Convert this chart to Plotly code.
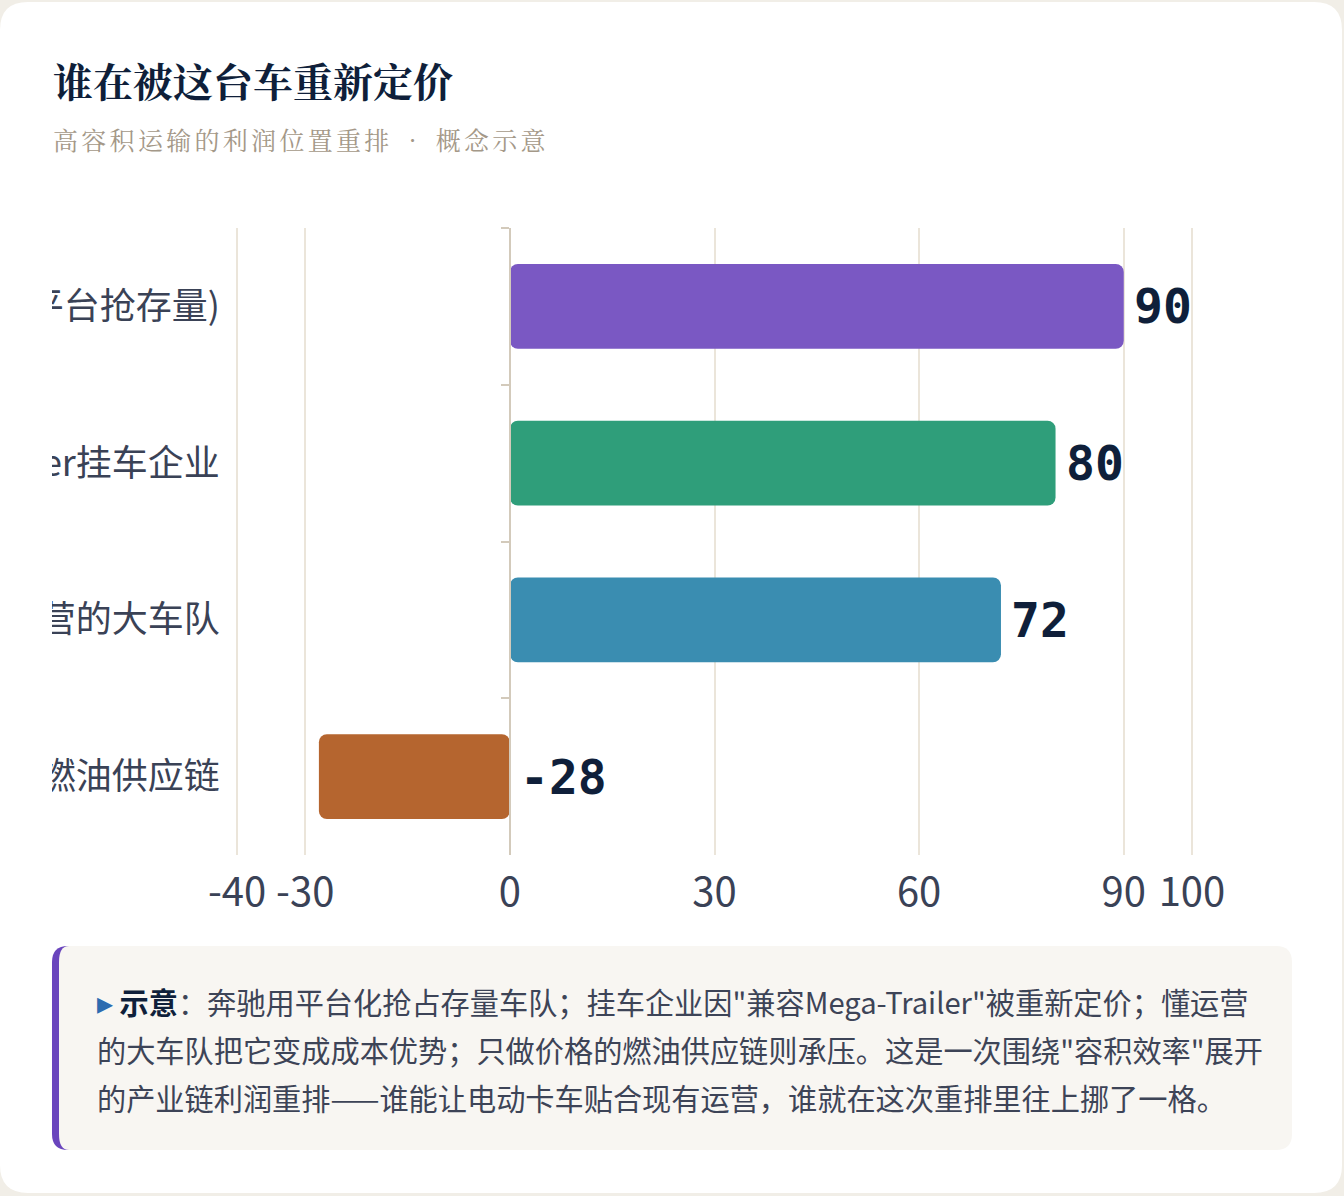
import plotly.graph_objects as go

W, H = 1344, 1196

# ---------------- data ----------------
categories = ["奔驰(平台抢存量)", "兼容Mega-Trailer挂车企业", "懂运营的大车队", "只做价格的燃油供应链"]
values = [90, 80, 72, -28]
bar_colors = ["#7a58c3", "#2f9e7a", "#3a8db1", "#b5652f"]
x_tickvals = [-40, -30, 0, 30, 60, 90, 100]
x_ticktext = ["-40", "-30", "0", "30", "60", "90", "100"]
x_range = [-40, 100]

title_text = "谁在被这台车重新定价"
subtitle_parts = ["高容积运输的利润位置重排", "·", "概念示意"]
note_lead = "示意"
note_lines = [
    "奔驰用平台化抢占存量车队；挂车企业因\"兼容Mega-Trailer\"被重新定价；懂运营",
    "的大车队把它变成成本优势；只做价格的燃油供应链则承压。这是一次围绕\"容积效率\"展开",
    "的产业链利润重排——谁能让电动卡车贴合现有运营，谁就在这次重排里往上挪了一格。",
]

# ---------------- layout constants ----------------
ML, MR, MT, MB = 235, 150, 228, 341
PW, PH = W - ML - MR, H - MT - MB
CJK = "Noto Sans CJK SC, Noto Sans, sans-serif"
SERIF = "Noto Serif CJK SC, Noto Sans CJK SC, serif"
NAVY = "#0f1f3a"
LABEL = "#3a4256"


def px(x):
    return (x - ML) / PW


def py(y):
    return 1 - (y - MT) / PH


def rr_path(x0, y0, x1, y1, r, rxl=None, ryl=None):
    rxl = r if rxl is None else rxl
    ryl = r if ryl is None else ryl
    pts = [
        ("M", [(x0 + rxl, y0)]),
        ("L", [(x1 - r, y0)]),
        ("Q", [(x1, y0), (x1, y0 + r)]),
        ("L", [(x1, y1 - r)]),
        ("Q", [(x1, y1), (x1 - r, y1)]),
        ("L", [(x0 + rxl, y1)]),
        ("Q", [(x0, y1), (x0, y1 - ryl)]),
        ("L", [(x0, y0 + ryl)]),
        ("Q", [(x0, y0), (x0 + rxl, y0)]),
    ]
    s = ""
    for cmd, ps in pts:
        s += cmd + " " + " ".join(f"{px(a):.6f},{py(b):.6f}" for a, b in ps) + " "
    return s + "Z"


bases = [min(v, 0) for v in values]
lengths = [abs(v) for v in values]
ends = [b + l for b, l in zip(bases, lengths)]

fig = go.Figure()
fig.add_trace(go.Bar(
    y=categories, x=lengths, base=bases, orientation="h",
    marker=dict(color=bar_colors, line=dict(width=0), cornerradius=8),
    hoverinfo="skip", showlegend=False,
))
# invisible helper trace carrying the zero axis line
fig.add_trace(go.Scatter(
    y=categories, x=[0] * len(categories), yaxis="y2", mode="markers",
    marker=dict(opacity=0), hoverinfo="skip", showlegend=False,
))

annotations = []
for cat, v, e in zip(categories, values, ends):
    annotations.append(dict(
        x=e, y=cat, xref="x", yref="y", text=str(v), showarrow=False,
        xanchor="left", yanchor="middle", xshift=8,
        font=dict(family="DejaVu Sans Mono", size=48, color=NAVY, weight=700),
    ))

annotations.append(dict(
    x=px(51), y=py(80), xref="paper", yref="paper", text=title_text,
    showarrow=False, xanchor="left", yanchor="middle",
    font=dict(family=SERIF, size=40, color=NAVY, weight=700),
))
sub_txt = "\u2002".join(subtitle_parts)
annotations.append(dict(
    x=px(51), y=py(139), xref="paper", yref="paper",
    text=f'<span style="letter-spacing:3.3px">{sub_txt}</span>',
    showarrow=False, xanchor="left", yanchor="middle",
    font=dict(family=SERIF, size=25, color="#a49888"),
))

line_y = [1000, 1049, 1097]
for i, (ln, yy) in enumerate(zip(note_lines, line_y)):
    if i == 0:
        txt = (f'<span style="color:#2c6cb0;font-size:32px">▸</span> '
               f'<span style="color:{NAVY}"><b>{note_lead}</b></span>：{ln}')
    else:
        txt = ln
    annotations.append(dict(
        x=px(95), y=py(yy), xref="paper", yref="paper", text=txt,
        showarrow=False, xanchor="left", yanchor="middle",
        font=dict(family=CJK, size=29.2, color="#3d4457"),
    ))

shapes = [
    # card
    dict(type="path", xref="paper", yref="paper", layer="below",
         path=rr_path(0, 2, 1342, 1193, 28), fillcolor="#ffffff", line=dict(width=0)),
    # note box border (purple, left side) and fill
    dict(type="path", xref="paper", yref="paper", layer="below",
         path=rr_path(52, 946, 120, 1150, 16), fillcolor="#6a45bd", line=dict(width=0)),
    dict(type="path", xref="paper", yref="paper", layer="below",
         path=rr_path(59, 946, 1292, 1150, 16, rxl=10, ryl=16), fillcolor="#f8f6f2", line=dict(width=0)),
    # container clipping of overflowing category labels
    dict(type="rect", xref="paper", yref="paper", layer="above",
         x0=px(-2), x1=px(52), y0=py(852), y1=py(232), fillcolor="#ffffff", line=dict(width=0)),
]

x_range_drawn = [x_range[0] - 0.3, x_range[1] + 0.3]
zero_pos = (0 - x_range_drawn[0]) / (x_range_drawn[1] - x_range_drawn[0])

fig.update_layout(
    template="none",
    width=W, height=H,
    margin=dict(l=ML, r=MR, t=MT, b=MB, autoexpand=False),
    paper_bgcolor="#f1eee7",
    plot_bgcolor="rgba(0,0,0,0)",
    bargap=0.458,
    showlegend=False,
    xaxis=dict(
        range=x_range_drawn, tickmode="array", tickvals=x_tickvals, ticktext=x_ticktext,
        showgrid=True, gridcolor="#ebe5da", gridwidth=2,
        zeroline=False, showline=False,
        ticks="outside", ticklen=2, tickcolor="rgba(0,0,0,0)",
        tickfont=dict(family=CJK, size=40, color=LABEL),
        automargin=False, fixedrange=True,
    ),
    yaxis=dict(
        type="category", categoryorder="array", categoryarray=categories,
        range=[len(categories) - 0.5, -0.5],
        showgrid=False, zeroline=False, showline=False,
        ticks="outside", ticklen=7, tickcolor="rgba(0,0,0,0)",
        tickfont=dict(family=CJK, size=36, color=LABEL),
        automargin=False, fixedrange=True,
    ),
    yaxis2=dict(
        type="category", categoryorder="array", categoryarray=categories,
        range=[len(categories) - 0.5, -0.5],
        overlaying="y", anchor="free", position=zero_pos, side="left",
        showgrid=False, zeroline=False, showline=True, linecolor="#d3cabb", linewidth=2,
        ticks="outside", tickson="boundaries", ticklen=8, tickwidth=2, tickcolor="#d3cabb",
        showticklabels=False, automargin=False, fixedrange=True,
    ),
    annotations=annotations,
    shapes=shapes,
)

fig.write_html("out.html")
